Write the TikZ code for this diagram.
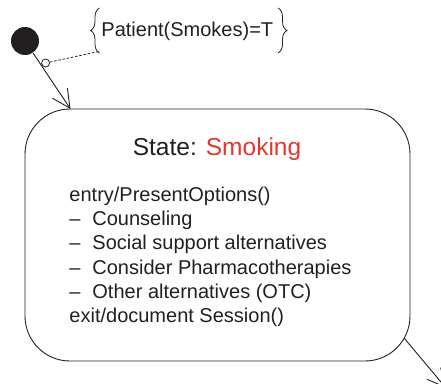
\documentclass[tikz,border=0pt]{standalone}
\usepackage{fontspec}
\setmainfont{Liberation Sans}
\usetikzlibrary{arrows.meta,decorations.pathreplacing}
\definecolor{ink}{RGB}{35,31,32}
\definecolor{statered}{RGB}{232,52,44}
\begin{document}
\begin{tikzpicture}[x=1pt,y=-1pt,
  line width=0.9pt, draw=ink, text=ink,
  arr/.style={-{Straight Barb[length=18pt,width=18pt,line width=0.9pt]}},
  curly/.style={decorate,decoration={brace,amplitude=9pt},line width=0.8pt}]
\useasboundingbox (0,0) rectangle (441,383);

% state box
\node[draw,rounded corners=45pt,minimum width=385pt,minimum height=252pt,
      inner sep=0pt] (state) at (217.5,235) {};
\node[anchor=base,font=\fontsize{24.5}{28}\selectfont,inner sep=0pt] (title)
  at (217,155) {State: \textcolor{statered}{Smoking}};
% activities; the base anchor sits on the last line
\node[anchor=base west,align=left,inner sep=0pt,
      font=\fontsize{20}{24.2}\selectfont] (body) at (69,322.5)
  {entry/PresentOptions()\\
   \makebox[23pt][l]{–}Counseling\\
   \makebox[23pt][l]{–}Social support alternatives\\
   \makebox[23pt][l]{–}Consider Pharmacotherapies\\
   \makebox[23pt][l]{–}Other alternatives (OTC)\\
   exit/document Session()};

% initial pseudo-state and entry transition
\node[circle,fill=ink,minimum size=28pt,inner sep=0pt] (init) at (25,41) {};
\coordinate (entry) at (70.5,109);
\draw[arr] (init) -- (entry);

% exit transition
\coordinate (exitstart) at (404.3,338.3);
\coordinate (exitend) at (446,388);
\draw[arr] (exitstart) -- (exitend);

% guard note attached to the entry transition
\node[circle,draw,fill=white,minimum size=8pt,inner sep=0pt,line width=0.8pt]
  (hook) at (45.6,63) {};
\coordinate (noteend) at (98.5,51.5);
\draw[dashed,dash pattern=on 2.5pt off 1.8pt,line width=0.8pt] (hook) -- (noteend);
\node[anchor=base west,inner sep=0pt,font=\fontsize{20}{24}\selectfont] (guard)
  at (101,36.7) {Patient(Smokes)=T};
\draw[curly] (99.5,53) -- (99.5,8);
\draw[curly] (278,8) -- (278,53);
\end{tikzpicture}
\end{document}
